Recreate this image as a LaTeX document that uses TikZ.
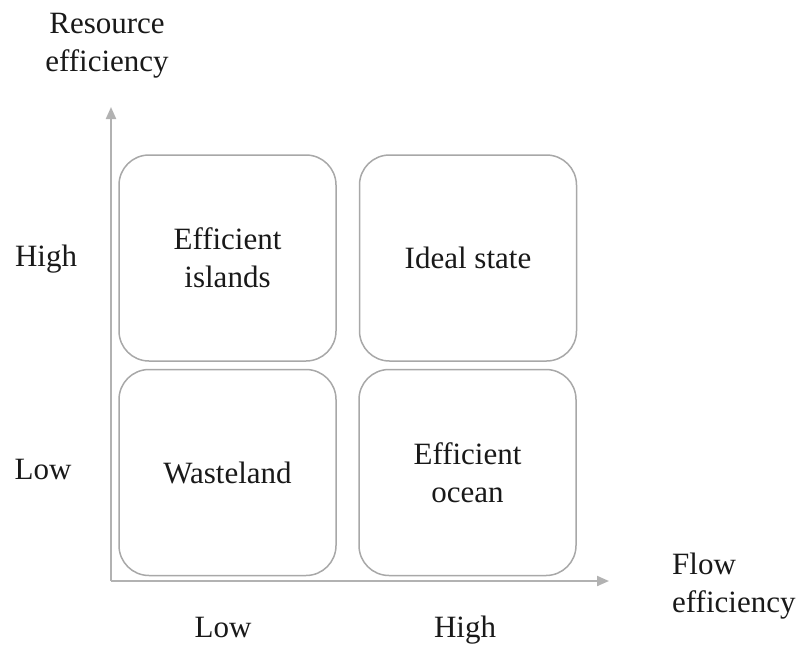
\documentclass[tikz,border=0pt]{standalone}
\usepackage{fontspec}
\setmainfont{Liberation Serif}
\usetikzlibrary{arrows.meta}
\definecolor{boxline}{RGB}{168,168,168}
\definecolor{axisline}{RGB}{178,178,178}
\definecolor{ink}{RGB}{25,25,25}
\begin{document}
\begin{tikzpicture}[x=1pt,y=-1pt,
  font=\fontsize{31}{38}\selectfont,
  every node/.style={text=ink, inner sep=0pt},
  quad/.style={draw=boxline, line width=1.5pt, rounded corners=30pt,
    minimum width=217pt, minimum height=206pt, align=center},
  axis/.style={draw=axisline, line width=2pt,
    -{Triangle[length=12pt,width=10pt]}},
  lbl/.style={anchor=base}]
  \useasboundingbox (0,0) rectangle (800,646);

  % quadrants
  \node[quad] (ei) at (227.5,258) {Efficient\\islands};
  \node[quad] (is) at (468,258) {Ideal state};
  \node[quad] (wl) at (227.5,472.5) {Wasteland};
  \node[quad] (eo) at (467.5,472.5) {Efficient\\ocean};

  % axes
  \coordinate (o) at (111,581);
  \coordinate (ytip) at (111,107);
  \coordinate (xtip) at (609,581);
  \draw[axis] (o) -- (ytip);
  \draw[axis] (o) -- (xtip);

  % axis titles (base anchor sits on the last line)
  \node[align=center, anchor=base] (ytitle) at (107,71) {Resource\\efficiency};
  \node[align=left, anchor=base west] (xtitle) at (672,612) {Flow\\efficiency};

  % tick labels
  \node[lbl] (yhigh) at (46,266) {High};
  \node[lbl] (ylow) at (43,479) {Low};
  \node[lbl] (xlow) at (223,637) {Low};
  \node[lbl] (xhigh) at (465,637) {High};
\end{tikzpicture}
\end{document}
